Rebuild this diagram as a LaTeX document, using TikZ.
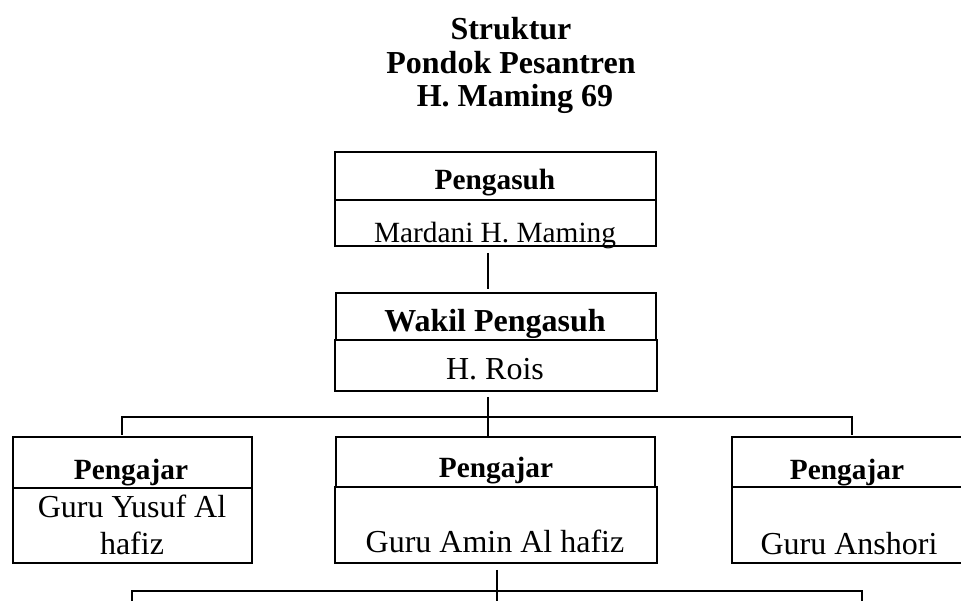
\documentclass[tikz,border=0pt]{standalone}
\usepackage{fontspec}
\setmainfont{Liberation Serif}
\usetikzlibrary{positioning}

\begin{document}
\begin{tikzpicture}[x=0.375pt,y=-0.375pt,
    kotak/.style={draw,line width=0.9pt,inner sep=0pt},
    garis/.style={line width=0.5pt},
    jabatan/.style={anchor=base,font=\fontsize{11}{13}\selectfont\bfseries},
    nama/.style={anchor=base,font=\fontsize{12}{13.9}\selectfont}]
  \useasboundingbox (0,0) rectangle (961,601);
  % judul
  \node[anchor=base,align=center,font=\fontsize{12}{12.6}\selectfont\bfseries]
    (judul) at (511,107) {Struktur\\Pondok Pesantren\\~H. Maming 69};
  % pengasuh
  \node[kotak,minimum width=120.4pt,minimum height=18pt] (pengasuhA) at (495.5,176) {};
  \node[kotak,minimum width=120.4pt,minimum height=17.25pt] (pengasuhB) at (495.5,223) {};
  \node[jabatan] (tPengasuh) at (495,190) {Pengasuh};
  \node[nama,font=\fontsize{11}{13}\selectfont] (nPengasuh) at (495,243) {Mardani H. Maming};
  % wakil
  \node[kotak,minimum width=120pt,minimum height=17.6pt] (wakilA) at (496,316.5) {};
  \node[kotak,minimum width=120.75pt,minimum height=19.1pt] (wakilB) at (496,365.5) {};
  \node[jabatan,font=\fontsize{12}{14}\selectfont\bfseries] (tWakil) at (495,332) {Wakil Pengasuh};
  \node[nama] (nWakil) at (495,380) {H. Rois};
  % pengajar
  \node[kotak,minimum width=89.6pt,minimum height=19.1pt] (kiriA) at (132.5,462.5) {};
  \node[kotak,minimum width=89.6pt,minimum height=28.1pt] (kiriB) at (132.5,525.5) {};
  \node[kotak,minimum width=119.6pt,minimum height=18.75pt] (tengahA) at (495.5,462) {};
  \node[kotak,minimum width=120.75pt,minimum height=28.5pt] (tengahB) at (496,525) {};
  \draw[line width=0.9pt] (961,437) -- (732,437) -- (732,563) -- (961,563);
  \draw[line width=0.9pt] (732,487) -- (961,487);
  \node[jabatan] (tKiri) at (131,480) {Pengajar};
  \node[nama,align=center] (nKiri) at (132,555) {Guru Yusuf Al\\hafiz};
  \node[jabatan] (tTengah) at (496,478) {Pengajar};
  \node[nama] (nTengah) at (495,553) {Guru Amin Al hafiz};
  \node[jabatan] (tKanan) at (847,480) {Pengajar};
  \node[nama] (nKanan) at (849,555) {Guru Anshori};
  % garis penghubung
  \coordinate (p1) at (488,253);
  \coordinate (p2) at (488,289);
  \coordinate (w1) at (488,397);
  \coordinate (w2) at (488,437);
  \coordinate (c1) at (122,417);
  \coordinate (c2) at (852,417);
  \coordinate (b1) at (497,570);
  \coordinate (b2) at (497,601);
  \coordinate (d1) at (132,591);
  \coordinate (d2) at (862,591);
  \draw[garis] (p1) -- (p2);
  \draw[garis] (w1) -- (w2);
  \draw[garis] (c1) ++(0,18) -- (c1) -- (c2) -- ++(0,18);
  \draw[garis] (b1) -- (b2);
  \draw[garis] (d1) ++(0,10) -- (d1) -- (d2) -- ++(0,10);
\end{tikzpicture}
\end{document}
